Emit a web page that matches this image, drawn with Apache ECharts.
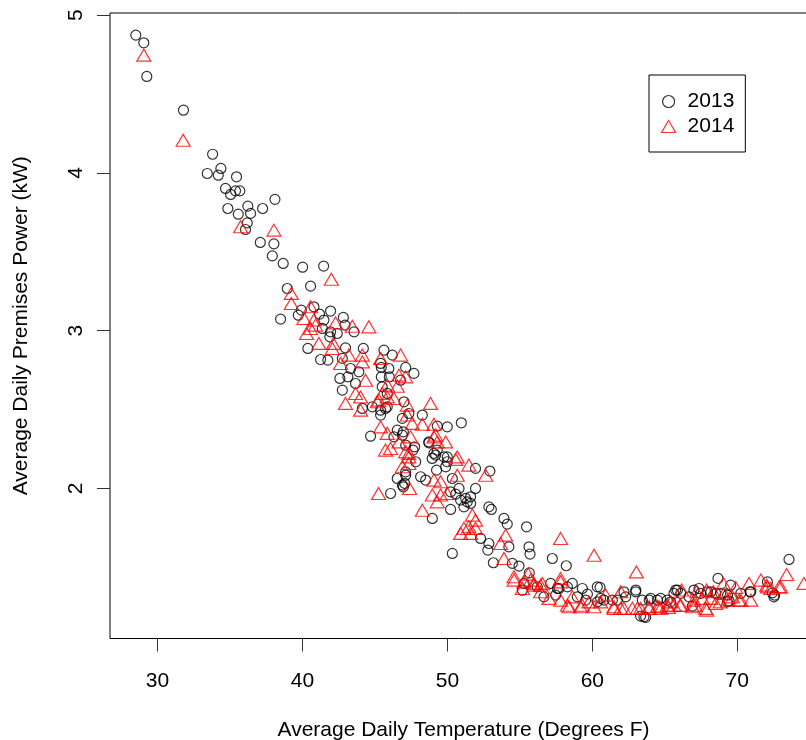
<!DOCTYPE html>
<html>
<head>
<meta charset="utf-8">
<title>Premises Power vs Temperature</title>
<script src="https://cdn.jsdelivr.net/npm/echarts@6/dist/echarts.min.js"></script>
<style>
  html, body { margin: 0; padding: 0; background: #fff; }
  #chart { width: 806px; height: 740px; }
</style>
</head>
<body>
<div id="chart"></div>
<script>
// Daily mean temperature (deg F) vs daily mean premises power (kW)
const series2013 = [
  [28.50,4.873],[29.05,4.824],[29.26,4.611],[31.79,4.397],[33.80,4.118],[33.43,3.996],[34.37,4.028],[34.19,3.985],
  [35.45,3.975],[34.69,3.901],[35.04,3.863],[35.38,3.886],[35.68,3.886],[38.10,3.832],[34.85,3.774],[36.23,3.789],
  [36.42,3.743],[35.57,3.738],[37.25,3.774],[36.19,3.683],[36.07,3.641],[37.09,3.559],[38.03,3.550],
  [37.92,3.474],[38.67,3.426],[40.01,3.402],[41.46,3.409],[40.56,3.282],[38.95,3.267],[38.49,3.073],[39.92,3.130],
  [40.79,3.151],[41.94,3.124],[41.18,3.105],[42.82,3.084],[39.71,3.098],
  [41.48,3.067],[42.93,3.035],[43.56,2.992],[41.37,3.014],[41.94,2.992],[42.40,2.982],[41.89,2.961],[40.37,2.887],
  [41.25,2.817],[41.75,2.813],[42.97,2.891],[42.75,2.824],[44.20,2.887],[43.32,2.760],[43.89,2.739],[42.58,2.697],
  [43.13,2.707],[43.66,2.665],[42.75,2.623],[44.13,2.507],[44.82,2.517],
  [45.62,2.876],[46.20,2.845],[45.39,2.792],[45.44,2.767],[47.12,2.767],[45.96,2.760],[47.69,2.729],[45.44,2.707],
  [45.99,2.707],[46.77,2.686],[45.50,2.644],[45.85,2.602],[47.00,2.549],[45.39,2.496],[45.73,2.507],[45.85,2.517],
  [45.39,2.465],[47.34,2.475],[48.27,2.465],[46.89,2.444],[49.30,2.395],[49.99,2.390],[50.96,2.416],[44.70,2.331],
  [46.54,2.369],[46.89,2.338],[46.31,2.327],[47.12,2.274],[47.74,2.264],[48.72,2.295],[49.19,2.211],[49.99,2.200],
  [46.96,2.359],[48.72,2.289],[49.30,2.243],[47.63,2.243],[49.07,2.222],[48.95,2.190],[49.76,2.200],[47.81,2.169],
  [49.99,2.169],[49.88,2.137],[51.94,2.127],[52.93,2.110],[49.25,2.116],[47.12,2.105],[48.15,2.074],[48.50,2.053],
  [50.34,2.063],[47.05,2.032],[46.96,2.010],[50.80,2.000],[50.22,1.978],[50.57,1.964],[51.94,2.000],[51.60,1.947],
  [51.26,1.937],[50.91,1.926],[51.37,1.915],[51.14,1.883],[51.60,1.905],[50.22,1.867],[52.86,1.883],[53.03,1.867],
  [48.96,1.810],[53.90,1.810],[54.13,1.774],[55.46,1.757],[52.29,1.683],[52.86,1.651],[52.79,1.609],[54.24,1.630],
  [55.63,1.630],[55.70,1.584],[50.34,1.588],[53.17,1.529],[54.48,1.525],[54.94,1.508],[57.24,1.556],[58.20,1.510],
  [55.65,1.465],[46.08,1.968],[46.54,2.063],[46.89,2.021],[47.12,2.084],
  [57.12,1.398],[55.29,1.398],[58.62,1.398],[59.31,1.366],[60.34,1.376],[60.53,1.373],[57.59,1.366],[62.18,1.345],
  [63.00,1.356],[59.66,1.330],[63.33,1.191],[63.68,1.183],[60.80,1.292],[61.38,1.292],[63.92,1.292],[64.71,1.303],
  [65.63,1.335],[65.87,1.356],
  [73.57,1.550],[68.67,1.430],[69.54,1.387],[70.88,1.345],[72.42,1.338],[72.58,1.324],[69.43,1.288],[65.75,1.356],
  [66.10,1.335],[66.67,1.313],[67.01,1.356],[67.36,1.366],[68.17,1.345],[68.52,1.335],[68.86,1.335],[69.33,1.324],
  [65.17,1.292],[66.90,1.254],
  [55.17,1.355],[56.20,1.376],[57.70,1.366],[58.28,1.376],[56.66,1.313],[57.47,1.324],[58.96,1.313],[59.54,1.292],
  [60.34,1.281],[60.57,1.303],
  [61.73,1.292],[62.30,1.313],[62.99,1.345],[63.45,1.292],[63.56,1.186],[64.02,1.303],[64.49,1.292],[65.40,1.281],
  [67.47,1.335],[67.94,1.345],[69.32,1.281],[70.24,1.335],[70.93,1.345],[72.08,1.408],[72.53,1.313]
];

const series2014 = [
  [29.05,4.746],[31.77,4.207],[35.73,3.658],[38.03,3.637],[41.99,3.326],[39.23,3.236],[39.23,3.172],[40.56,3.151],
  [40.10,3.077],[42.28,3.049],[43.44,3.028],[44.58,3.024],[40.90,3.035],
  [40.79,3.067],[40.56,3.014],[40.28,2.982],[41.13,2.919],[42.13,2.919],[42.06,2.887],[43.20,2.845],[44.13,2.845],
  [42.63,2.792],[44.13,2.802],[44.35,2.686],[43.66,2.602],[44.01,2.580],[42.97,2.539],[44.01,2.496],
  [45.39,2.824],[45.16,2.549],[45.50,2.602],
  [46.77,2.845],[46.66,2.718],[47.12,2.707],[45.85,2.655],[46.54,2.648],[45.85,2.580],[45.27,2.560],[46.32,2.570],
  [47.23,2.528],[48.84,2.539],[47.57,2.412],[48.27,2.407],[49.07,2.407],[45.39,2.390],[45.85,2.349],[47.46,2.327],
  [46.66,2.295],[46.08,2.253],[49.19,2.338],[49.88,2.295],[45.73,2.243],[47.34,2.222],[50.68,2.200],
  [47.23,2.465],[49.07,2.327],[49.30,2.295],[47.12,2.232],[47.34,2.200],[47.34,2.158],[50.57,2.184],[51.48,2.148],
  [52.64,2.084],[46.89,2.137],[49.07,2.053],[49.53,2.042],[50.68,2.084],[47.39,2.000],[48.96,1.958],[49.53,1.958],
  [49.99,1.968],[49.30,1.915],[48.27,1.862],[51.72,1.831],[51.94,1.799],[51.14,1.747],[51.48,1.757],[51.94,1.747],
  [50.91,1.715],[51.60,1.715],[54.02,1.704],[53.67,1.651],[57.81,1.683],[53.90,1.556],[55.58,1.457],[54.59,1.440],
  [57.81,1.430],[45.25,1.968],
  [60.12,1.577],[63.04,1.471],[57.81,1.408],[55.97,1.398],[56.55,1.398],[55.17,1.366],[56.43,1.345],[60.92,1.324],
  [61.96,1.345],[57.01,1.303],[57.81,1.292],[58.62,1.313],[58.28,1.260],[59.77,1.281],[60.57,1.281],[59.19,1.250],
  [61.49,1.250],[61.96,1.240],[63.11,1.240],[63.92,1.250],[64.49,1.254],[65.63,1.260],
  [73.41,1.455],[74.60,1.398],[69.04,1.398],[69.89,1.373],[70.81,1.398],[71.63,1.419],[72.03,1.387],[72.88,1.376],
  [72.31,1.366],[70.24,1.292],[70.93,1.292],[68.81,1.281],[67.89,1.229],[67.08,1.260],[66.04,1.260],[65.24,1.246],
  [66.16,1.356],[67.19,1.345],[67.89,1.356],[68.35,1.345],[69.08,1.335],[69.66,1.313],[67.01,1.292],[67.59,1.303],
  [68.17,1.303],[65.40,1.281],[64.71,1.240],
  [54.60,1.419],[55.28,1.408],[55.74,1.419],[55.97,1.387],[56.43,1.387],[58.39,1.250],[59.31,1.260],[60.12,1.250],
  [61.49,1.240],[62.18,1.240],[62.76,1.240],[63.33,1.240],[63.91,1.240],[64.60,1.250],[65.18,1.260],[66.10,1.260],
  [66.90,1.250],[67.82,1.240],[68.51,1.271],[69.32,1.292],[70.12,1.292],[72.08,1.376],[73.00,1.376]
];

const seriesNames = ['2013', '2014'];
const xTicks = [30, 40, 50, 60, 70];
const yTicks = [2, 3, 4, 5];

const FONT = '"Liberation Sans", Arial, sans-serif';
const FS = 21;

const chart = echarts.init(document.getElementById('chart'), null, { renderer: 'canvas' });

chart.setOption({
  animation: false,
  backgroundColor: '#ffffff',
  textStyle: { fontFamily: FONT },
  grid: {
    left: 110, top: 13, width: 707, height: 625.5,
    outerBoundsMode: 'none',
    containLabel: false,
    show: true, borderColor: '#000', borderWidth: 1,
    backgroundColor: 'transparent'
  },
  legend: {
    orient: 'vertical',
    left: 649, top: 75,
    padding: [16, 11, 15, 12],
    itemGap: 4,
    itemWidth: 14, itemHeight: 12,
    borderColor: '#000', borderWidth: 1,
    backgroundColor: '#fff',
    textStyle: { fontSize: FS, color: '#000', fontFamily: FONT, padding: [0, 0, 0, 7] },
    data: [
      { name: seriesNames[0], icon: 'circle',
        itemStyle: { color: 'transparent', borderColor: '#000', borderWidth: 1.2 } },
      { name: seriesNames[1], icon: 'triangle',
        itemStyle: { color: 'transparent', borderColor: '#ff0000', borderWidth: 1.2 } }
    ],
    selectedMode: false
  },
  xAxis: {
    type: 'value',
    min: 26.72, max: 75.5,
    name: 'Average Daily Temperature (Degrees F)',
    nameLocation: 'middle',
    nameGap: 81,
    nameTextStyle: { fontSize: FS, color: '#000', fontFamily: FONT },
    axisLine: { show: false },
    splitLine: { show: false },
    axisTick: { show: true, length: 13, lineStyle: { color: '#333', width: 1 }, customValues: xTicks },
    axisLabel: { fontSize: FS, color: '#000', margin: 32.5, customValues: xTicks, fontFamily: FONT }
  },
  yAxis: {
    type: 'value',
    min: 1.049, max: 5.013,
    name: 'Average Daily Premises Power (kW)',
    nameLocation: 'middle',
    nameRotate: 90,
    nameGap: 78.5,
    nameTextStyle: { fontSize: FS, color: '#000', fontFamily: FONT },
    axisLine: { show: false },
    splitLine: { show: false },
    axisTick: { show: true, length: 13, lineStyle: { color: '#333', width: 1 }, customValues: yTicks },
    axisLabel: { fontSize: FS, color: '#000', rotate: 90, margin: 23.5, customValues: yTicks, fontFamily: FONT }
  },
  series: [
    {
      name: seriesNames[0],
      type: 'scatter',
      data: series2013,
      symbol: 'circle',
      symbolSize: 10,
      itemStyle: { color: 'transparent', borderColor: '#000', borderWidth: 1.2 },
      emphasis: { disabled: true }
    },
    {
      name: seriesNames[1],
      type: 'scatter',
      data: series2014,
      symbol: 'triangle',
      symbolSize: [14, 12],
      itemStyle: { color: 'transparent', borderColor: '#ff0000', borderWidth: 1.2 },
      emphasis: { disabled: true }
    }
  ]
});
</script>
</body>
</html>
